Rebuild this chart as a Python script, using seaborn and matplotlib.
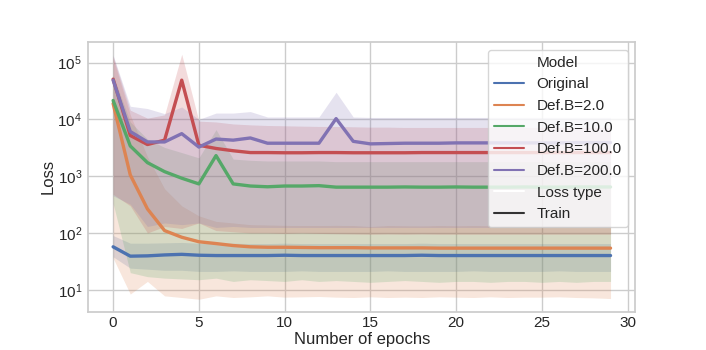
import numpy as np
import pandas as pd
import seaborn as sns
import matplotlib
matplotlib.use("Agg")
import matplotlib.pyplot as plt

epochs = list(range(30))
models = ["Original", "Def.B=2.0", "Def.B=10.0", "Def.B=100.0", "Def.B=200.0"]

# mean train loss per epoch
orig_mean = [57, 39, 39.5, 41, 42, 40.5, 40, 40, 40, 40, 40.5, 40, 40, 40, 40,
             40, 40, 40, 40.5, 40, 40, 40, 40, 40, 40, 40, 40, 40, 40, 40]
b2_mean = [19000, 1050, 265, 110, 84, 70, 65, 60, 57, 56, 56, 55.5, 55, 55, 55,
           54.5, 54.5, 54.5, 54.5, 54, 54, 54, 54, 54, 54, 54, 54, 54, 54, 54]
b10_mean = [21500, 3400, 1730, 1200, 920, 730, 2300, 730, 670, 650, 670, 670, 680, 640, 640,
            640, 640, 645, 640, 640, 645, 640, 640, 640, 645, 640, 640, 645, 645, 645]
b100_mean = [51000, 5200, 3600, 4300, 49000, 3500, 3070, 2800, 2600, 2600, 2580, 2580, 2600, 2600, 2580,
             2580, 2580, 2580, 2600, 2600, 2600, 2600, 2600, 2600, 2600, 2600, 2600, 2600, 2600, 2600]
b200_mean = [49000, 6100, 4000, 4000, 5600, 3250, 4500, 4300, 4700, 3800, 3800, 3800, 3800, 10300, 4100,
             3700, 3750, 3800, 3800, 3800, 3850, 3850, 3850, 3850, 3850, 3850, 3850, 3900, 3900, 3900]

# band limits
orig_lo = [38, 24, 23, 22, 22, 21, 21, 21.5, 21, 21, 21, 21.5, 21, 21, 21,
           21, 21.5, 21, 21, 21, 21, 21.5, 21, 21, 21, 21, 21.5, 21, 21, 21]
orig_hi = [90, 66, 66, 67, 68, 66, 65, 66, 65, 65, 66, 65, 65, 65, 65,
           65, 65, 65, 66, 65, 65, 65, 65, 65, 65, 65, 65, 65, 65, 65]
b2_lo = [36, 8.4, 14, 7.8, 7.3, 6.8, 7.8, 7.3, 7.5, 7.8, 7.4, 7.5, 7.6, 7.4, 7.3,
         7.5, 7.3, 7.4, 7.3, 7.5, 7.4, 7.3, 7.5, 7.3, 7.4, 7.4, 7.5, 7.3, 7.2, 7.0]
b2_hi = [120000, 12000, 2200, 600, 300, 200, 160, 150, 140, 138, 136, 135, 135, 136, 135,
         130, 135, 134, 133, 135, 134, 135, 134, 135, 133, 134, 135, 133, 134, 135]
b10_lo = [330, 20, 17, 16, 15.5, 15, 16, 14, 15, 14.5, 14, 15, 14, 14.5, 14,
          13.5, 14, 14.5, 14, 13.5, 14, 14, 13.5, 14, 14, 13.5, 14, 13.5, 14, 14]
b10_hi = [60000, 9000, 4500, 3200, 2600, 2100, 6600, 2000, 1900, 1850, 1850, 1850, 1850, 1800, 1800,
          1800, 1800, 1800, 1800, 1800, 1800, 1800, 1800, 1800, 1800, 1800, 1800, 1800, 1800, 1800]
b100_lo = [480, 300, 100, 130, 120, 150, 110, 105, 100, 100, 98, 100, 98, 97, 96,
           95, 96, 95, 96, 95, 95, 95, 95, 95, 95, 95, 95, 95, 95, 95]
b100_hi = [130000, 14500, 10500, 12000, 140000, 9300, 9000, 8300, 8000, 7800, 7700, 7600, 7500, 7500, 7400,
           7300, 7300, 7200, 7200, 7200, 7200, 7200, 7200, 7200, 7200, 7200, 7200, 7200, 7200, 7200]
b200_lo = [450, 320, 130, 150, 140, 150, 125, 130, 125, 125, 125, 125, 125, 125, 125,
           125, 125, 125, 125, 125, 125, 125, 125, 125, 125, 125, 125, 125, 125, 125]
b200_hi = [135000, 17000, 15500, 12600, 16500, 10000, 12900, 12900, 13700, 11000, 11000, 11000, 11000, 30000, 11000,
           10800, 10800, 10800, 10800, 10800, 10800, 10800, 10800, 10800, 10800, 10800, 10800, 10800, 10800, 10800]

means = [orig_mean, b2_mean, b10_mean, b100_mean, b200_mean]
lows = [orig_lo, b2_lo, b10_lo, b100_lo, b200_lo]
highs = [orig_hi, b2_hi, b10_hi, b100_hi, b200_hi]

df = pd.DataFrame({
    "Epoch": epochs * len(models),
    "Loss": np.concatenate(means),
    "Model": np.repeat(models, len(epochs)),
    "Loss type": "Train",
})

sns.set_theme(style="whitegrid", context="notebook",
              rc={"xtick.major.size": 0, "ytick.major.size": 0,
                  "xtick.major.pad": 3.5, "ytick.major.pad": 4.5,
                  "axes.labelpad": 1.5})
plt.rcParams["font.family"] = ["Liberation Sans", "DejaVu Sans"]
plt.rcParams["mathtext.default"] = "regular"
plt.rcParams["legend.loc"] = "upper right"

fig, ax = plt.subplots(figsize=(7.06, 3.5), dpi=100)
fig.subplots_adjust(left=0.125, right=0.9, bottom=0.11, top=0.88)

palette = sns.color_palette("deep", len(models))
for col, lo, hi in zip(palette, lows, highs):
    ax.fill_between(epochs, lo, hi, color=col, alpha=0.2, linewidth=0)

sns.lineplot(data=df, x="Epoch", y="Loss", hue="Model", style="Loss type",
             palette=palette, linewidth=2.4, ax=ax)

ax.set_yscale("log")
ax.set_xlabel("Number of epochs")
ax.set_ylabel("Loss")

leg = ax.get_legend()
for h in leg.get_lines():
    h.set_linewidth(1.5)

fig.savefig("out.png", dpi=100)
